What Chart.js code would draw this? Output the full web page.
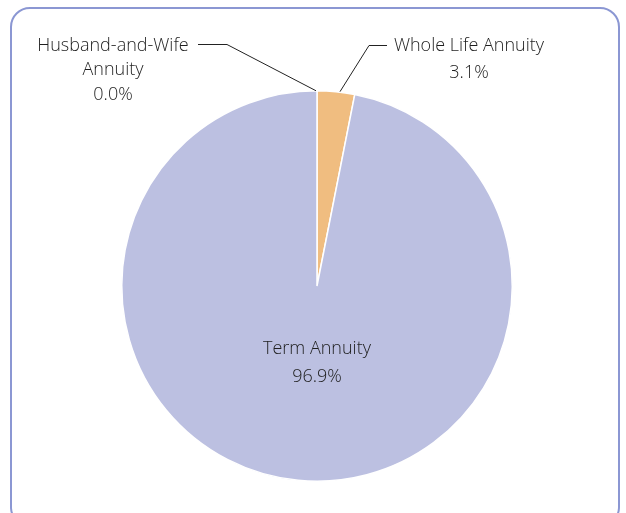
<!DOCTYPE html>
<html>
<head>
<meta charset="utf-8">
<script src="https://cdn.jsdelivr.net/npm/chart.js@4"></script>
<style>
  html, body { margin: 0; padding: 0; background: #fff; }
  #wrap { position: relative; width: 626px; height: 513px; overflow: hidden; }
  #frame { position: absolute; left: 10px; top: 7px; width: 610px; height: 520px;
           border: 2px solid #8b97d3; border-radius: 20px; box-sizing: border-box; }
  canvas { position: absolute; left: 0; top: 0; }
</style>
</head>
<body>
<div id="wrap">
  <div id="frame"></div>
  <canvas id="myChart" width="626" height="513"></canvas>
</div>
<script>
// Pie chart of annuity types

const labels = ['Husband-and-Wife Annuity', 'Whole Life Annuity', 'Term Annuity'];
const values = [0.0, 3.1, 96.9];
const colors = ['#bcc0e1', '#f0bd80', '#bcc0e1'];

const FONT = '300 18px "Open Sans", sans-serif';
const TEXT = '#1e1e1e';

// outside labels with leader lines, inside label for the big slice
const sliceLabels = {
    id: 'sliceLabels',
    afterDatasetsDraw(chart) {
        const ctx = chart.ctx;
        const arcs = chart.getDatasetMeta(0).data;
        ctx.save();
        ctx.font = FONT;
        ctx.fillStyle = TEXT;
        ctx.strokeStyle = '#222';
        ctx.lineWidth = 1;
        ctx.textAlign = 'center';
        ctx.textBaseline = 'middle';

        function edge(arc) {
            let p = arc.getProps(['x', 'y', 'startAngle', 'endAngle', 'outerRadius'], true);
            let a = (p.startAngle + p.endAngle) / 2;
            return [p.x + Math.cos(a) * p.outerRadius, p.y + Math.sin(a) * p.outerRadius];
        }

        // Husband-and-Wife
        let e0 = edge(arcs[0]);
        ctx.beginPath();
        ctx.moveTo(198, 44.5);
        ctx.lineTo(227, 44.5);
        ctx.lineTo(e0[0] - 1, e0[1]);
        ctx.stroke();
        ctx.fillText('Husband-and-Wife', 113, 46);
        ctx.fillText('Annuity', 113, 70);
        ctx.fillText(values[0].toFixed(1) + '%', 113, 95);

        // Whole Life
        let e1 = edge(arcs[1]);
        ctx.beginPath();
        ctx.moveTo(387, 45.5);
        ctx.lineTo(369, 45.5);
        ctx.lineTo(e1[0] + 4, e1[1]);
        ctx.stroke();
        ctx.fillText('Whole Life Annuity', 469, 46);
        ctx.fillText(values[1].toFixed(1) + '%', 469, 73);

        // Term
        let p = arcs[2].getProps(['x', 'y'], true);
        ctx.fillText('Term Annuity', p.x, 349);
        ctx.fillText(values[2].toFixed(1) + '%', p.x, 377);
        ctx.restore();
    }
};

let ctx = document.getElementById('myChart').getContext('2d');
let myChart = new Chart(ctx, {
    type: 'pie',
    data: {
        labels: labels,
        datasets: [{
            data: values,
            backgroundColor: colors,
            borderColor: '#ffffff',
            borderWidth: 1.5
        }]
    },
    options: {
        responsive: false,
        animation: false,
        layout: { padding: { top: 90, bottom: 31, left: 121, right: 113 } },
        plugins: {
            legend: { display: false },
            tooltip: { enabled: false }
        }
    },
    plugins: [sliceLabels]
});
</script>
</body>
</html>
